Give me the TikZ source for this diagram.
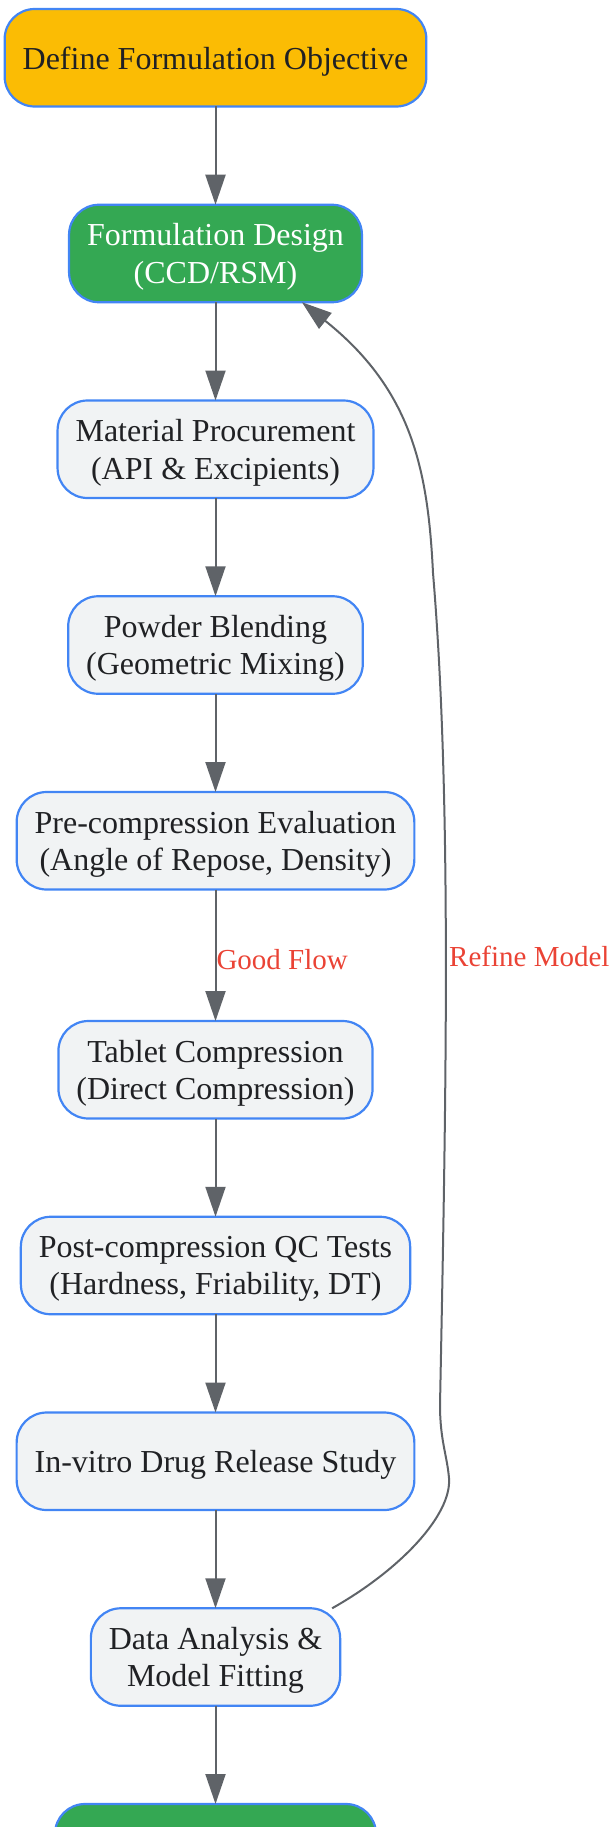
\documentclass[tikz,border=0pt]{standalone}
\usepackage{fontspec}
\setmainfont{Liberation Serif}
\usetikzlibrary{positioning,arrows.meta}
\definecolor{objyellow}{HTML}{FBBC04}
\definecolor{designgreen}{HTML}{34A853}
\definecolor{nodeblue}{HTML}{4285F4}
\definecolor{nodegrey}{HTML}{F1F3F4}
\definecolor{inktext}{HTML}{202124}
\definecolor{edgegrey}{HTML}{5F6368}
\definecolor{labelred}{HTML}{EA4335}
\tikzset{
	box/.style = { draw=nodeblue, line width=2.2pt, fill=nodegrey, text=inktext, rounded corners=30pt, align=center, inner xsep=18pt, minimum height=97.5pt, text depth=0pt, outer sep=0pt, font=\fontsize{32}{37.5}\selectfont },
	objbox/.style = { box, fill=objyellow },
	designbox/.style = { box, fill=designgreen, text=white },
	arrow/.style = { line width=2pt, color=edgegrey, -{Triangle[length=30pt,width=20pt]} },
	flowlabel/.style = { text=labelred, inner sep=0pt, font=\fontsize{29}{34}\selectfont },
}

\begin{document}
\begin{tikzpicture}[x=1pt, y=-1pt, node distance=98.25pt]
\useasboundingbox (0,0) rectangle (615,1827);
\node[objbox] (objective) at (215.5,57.75) {Define Formulation Objective};
\node[designbox, below=of objective] (design) {Formulation Design\\(CCD/RSM)};
\node[box, below=of design] (procure) {Material Procurement\\(API \& Excipients)};
\node[box, below=of procure] (blend) {Powder Blending\\(Geometric Mixing)};
\node[box, below=of blend] (precomp) {Pre-compression Evaluation\\(Angle of Repose, Density)};
\node[box, below=131.5pt of precomp] (tablet) {Tablet Compression\\(Direct Compression)};
\node[box, below=of tablet] (postcomp) {Post-compression QC Tests\\(Hardness, Friability, DT)};
\node[box, below=of postcomp] (release) {In-vitro Drug Release Study};
\node[box, below=of release] (analysis) {Data Analysis \&\\Model Fitting};
\node[designbox, minimum width=321pt, below=of analysis] (final) {};

\foreach \a/\b in {objective/design, design/procure, procure/blend, blend/precomp, tablet/postcomp, postcomp/release, release/analysis, analysis/final}
	\draw[arrow] (\a) -- (\b);
\draw[arrow] (precomp) -- node[flowlabel, pos=0.53, anchor=west] (goodflow) {Good Flow} (tablet);

\draw[arrow] ([xshift=-8pt]analysis.north east) .. controls (400,1570) and (452,1515) .. (449,1478)
	.. controls (447,1455) and (440,1440) .. (440,1405)
	.. controls (446,1100) and (452,800) .. (433,573)
	.. controls (428,470) and (412,390) .. ([xshift=-60pt]design.south east);
\node[flowlabel, anchor=west] (refine) at (449,956) {Refine Model};
\end{tikzpicture}
\end{document}
